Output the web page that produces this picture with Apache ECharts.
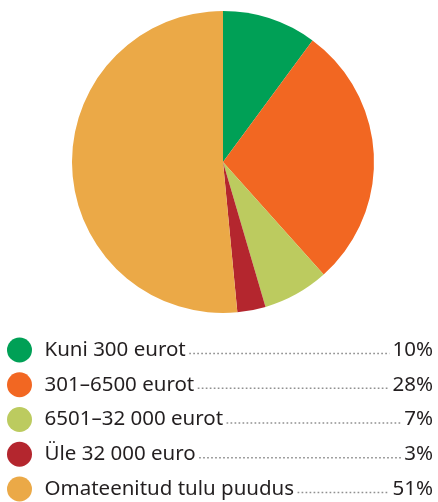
<!DOCTYPE html>
<html>
<head>
<meta charset="utf-8">
<script src="https://cdn.jsdelivr.net/npm/echarts@6/dist/echarts.min.js"></script>
<style>
  html, body { margin: 0; padding: 0; background: #fff; }
  #main { width: 438px; height: 502px; }
</style>
</head>
<body>
<div id="main"></div>
<script>
// andmed
const categories = ["Kuni 300 eurot", "301–6500 eurot", "6501–32 000 eurot", "Üle 32 000 euro", "Omateenitud tulu puudus"];
const values = [10, 28, 7, 3, 51];
const pctLabels = ["10%", "28%", "7%", "3%", "51%"];
const colors = ["#00a056", "#f26722", "#bccb5f", "#b4262e", "#eba947"];

const FONT = '"Noto Sans", "DejaVu Sans", sans-serif';
const FONT_SIZE = 20.5;
const legendTop = 337.5;
const itemH = 25;
const gap = 9.75;
const textX = 45;

// teksti laiuse mõõtmine punktiiri alguse jaoks
const ctx = document.createElement("canvas").getContext("2d");
ctx.font = FONT_SIZE + "px " + FONT;

const chart = echarts.init(document.getElementById("main"));

let graphics = [];
categories.forEach(function (name, i) {
  let cy = legendTop + itemH / 2 + i * (itemH + gap);
  let pctW = ctx.measureText(pctLabels[i]).width;
  let nameW = ctx.measureText(name).width;
  graphics.push({
    type: "line",
    silent: true,
    shape: { x1: textX + nameW + 3, y1: cy + 3.5, x2: 433 - pctW - 3, y2: cy + 3.5 },
    style: { stroke: "#909090", lineWidth: 1.7, lineDash: [1.7, 2.3] }
  });
  graphics.push({
    type: "text",
    silent: true,
    x: 433,
    y: cy,
    style: {
      text: pctLabels[i],
      font: FONT_SIZE + "px " + FONT,
      fill: "#231f20",
      align: "right",
      verticalAlign: "middle"
    }
  });
});

chart.setOption({
  animation: false,
  color: colors,
  legend: {
    orient: "vertical",
    left: 7,
    top: legendTop,
    height: 170,
    padding: 0,
    icon: "circle",
    itemWidth: 36,
    itemHeight: itemH,
    itemGap: gap,
    selectedMode: false,
    textStyle: {
      fontFamily: FONT,
      fontSize: FONT_SIZE,
      color: "#231f20",
      lineHeight: itemH,
      padding: [0, 0, 0, 2]
    },
    data: categories
  },
  series: [{
    type: "pie",
    center: [223, 162],
    radius: 151,
    startAngle: 90,
    clockwise: true,
    label: { show: false },
    labelLine: { show: false },
    itemStyle: { borderWidth: 0 },
    emphasis: { disabled: true },
    data: categories.map(function (c, i) {
      return { name: c, value: values[i] };
    })
  }],
  graphic: graphics
});
</script>
</body>
</html>
